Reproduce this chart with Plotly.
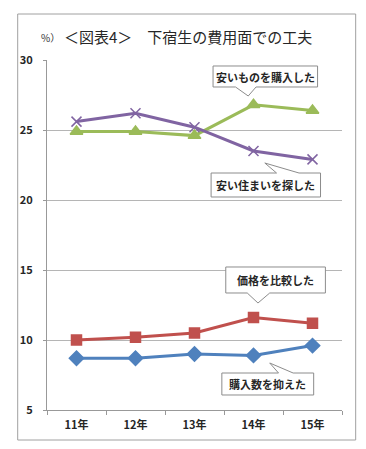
import plotly.graph_objects as go

years = ["11年", "12年", "13年", "14年", "15年"]
buy_count = [8.7, 8.7, 9.0, 8.9, 9.6]        # 購入数を抑えた
compare_price = [10.0, 10.2, 10.5, 11.6, 11.2]  # 価格を比較した
cheap_goods = [24.9, 24.9, 24.6, 26.8, 26.4]   # 安いものを購入した
cheap_house = [25.6, 26.2, 25.2, 23.5, 22.9]   # 安い住まいを探した
y_ticks = [5, 10, 15, 20, 25, 30]

OFF = 8  # page body margin
W, H = 366 - OFF, 449 - OFF
L, R, T, B = 40 - OFF, 24, 60 - OFF, 39
PW, PH = W - L - R, H - T - B

def px(x, y):
    x -= OFF
    y -= OFF
    return (x - L) / PW, (H - B - y) / PH

def path(points):
    pts = [px(x, y) for x, y in points]
    return "M " + " L ".join(f"{a:.4f},{b:.4f}" for a, b in pts) + " Z"

FONT = "Noto Sans CJK JP"
fig = go.Figure()

series = [
    (buy_count, "購入数を抑えた", "#4F81BD", "diamond", 11),
    (compare_price, "価格を比較した", "#C0504D", "square", 10),
    (cheap_goods, "安いものを購入した", "#9BBB59", "triangle-up", 11),
    (cheap_house, "安い住まいを探した", "#8064A2", "x-thin-open", 10),
]
for vals, name, col, sym, sz in series:
    fig.add_trace(go.Scatter(
        x=years, y=vals, name=name, mode="lines+markers",
        line=dict(color=col, width=3),
        marker=dict(symbol=sym, size=sz, color=col, line=dict(color=col, width=1.5)),
    ))

shapes = []
# outer frame
x0, y0 = px(10, 14)
x1, y1 = px(356, 440)
shapes.append(dict(type="rect", xref="paper", yref="paper", x0=x0, y0=y1, x1=x1, y1=y0,
                   line=dict(color="#a0a0a0", width=1), layer="below"))

callouts = [
    ("安いものを購入した", [(210, 66), (317, 66), (317, 87), (254, 87), (246, 96), (233, 87), (210, 87)], (263.5, 76.5)),
    ("安い住まいを探した", [(208, 173), (275, 173), (263, 163), (298, 173), (320, 173), (320, 197), (208, 197)], (264, 185)),
    ("価格を比較した", [(223, 267), (325, 267), (325, 293), (268, 293), (256, 303), (245, 293), (223, 293)], (274, 280)),
    ("購入数を抑えた", [(219, 373), (277, 373), (268, 363), (292, 373), (313, 373), (313, 395), (219, 395)], (266, 384)),
]
annotations = []
for text, pts, (cx, cy) in callouts:
    shapes.append(dict(type="path", xref="paper", yref="paper", path=path(pts),
                       fillcolor="white", line=dict(color="#8c8c8c", width=1), layer="above"))
    ax, ay = px(cx, cy)
    annotations.append(dict(xref="paper", yref="paper", x=ax, y=ay, text=text, showarrow=False,
                            xanchor="center", yanchor="middle",
                            font=dict(family=FONT, size=11, color="#262626", weight="bold")))

# titles
tx, ty = px(32, 38)
annotations.append(dict(xref="paper", yref="paper", x=tx, y=ty, text="%）", showarrow=False,
                        xanchor="left", yanchor="middle",
                        font=dict(family=FONT, size=10, color="#333333")))
tx, ty = px(55, 36)
annotations.append(dict(xref="paper", yref="paper", x=tx, y=ty, text="＜図表4＞　下宿生の費用面での工夫",
                        showarrow=False, xanchor="left", yanchor="middle",
                        font=dict(family=FONT, size=15, color="#262626")))

fig.update_layout(
    width=W, height=H,
    margin=dict(l=L, r=R, t=T, b=B),
    paper_bgcolor="white", plot_bgcolor="white",
    showlegend=False,
    shapes=shapes, annotations=annotations,
    xaxis=dict(type="category", range=[-0.5, 4.5], showline=True, linecolor="#999999", linewidth=1,
               ticks="outside", ticklen=4, tickcolor="#999999", tickson="boundaries",
               ticklabelstandoff=5,
               showgrid=False, zeroline=False,
               tickfont=dict(family=FONT, size=11, color="#262626", weight="bold")),
    yaxis=dict(range=[5, 30], tickvals=y_ticks, showline=True, linecolor="#999999", linewidth=1,
               ticks="outside", ticklen=3, tickcolor="#999999", ticklabelstandoff=8,
               showgrid=True, gridcolor="#b5b5b5", gridwidth=1, zeroline=False,
               tickfont=dict(family=FONT, size=11, color="#262626", weight="bold")),
)

fig.write_html("out.html")
